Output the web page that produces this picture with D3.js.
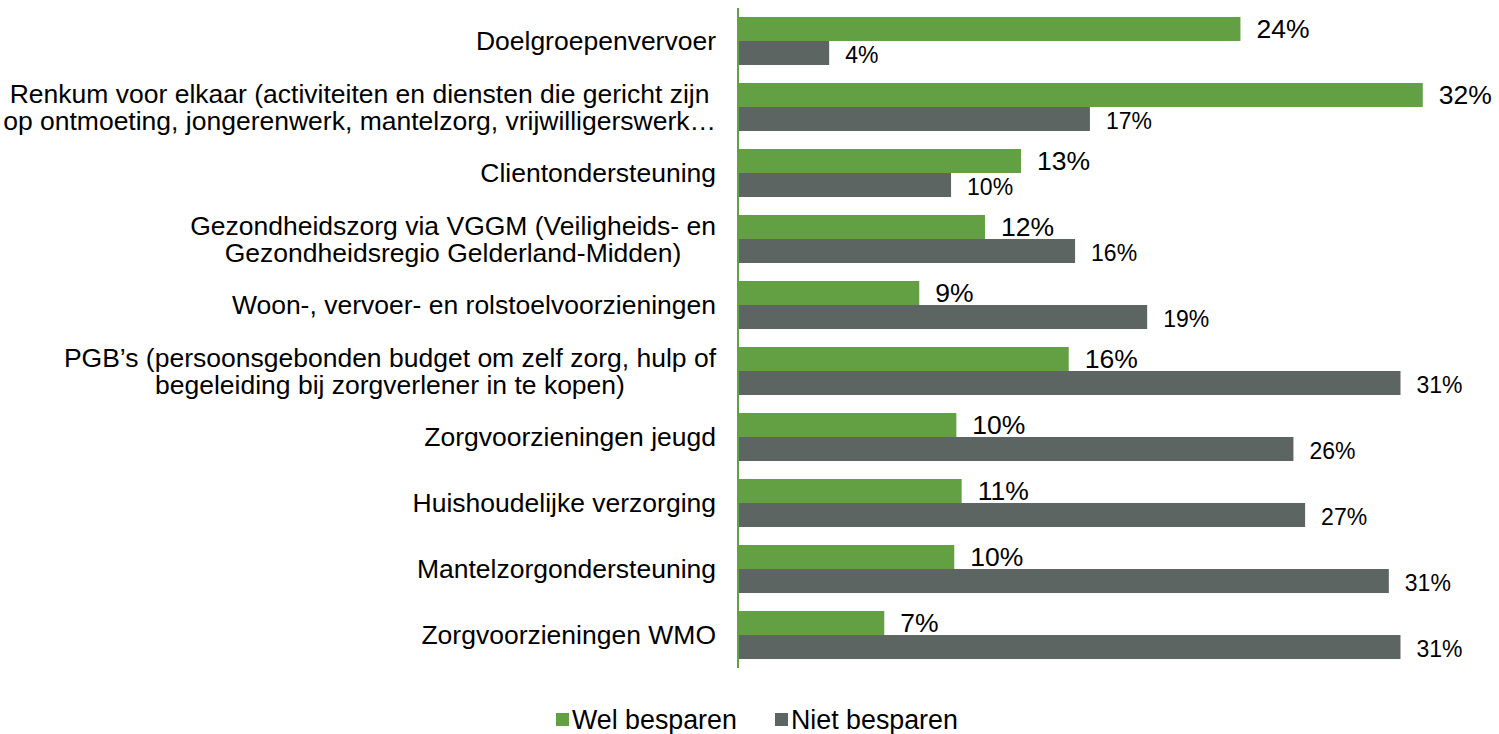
<!DOCTYPE html>
<html>
<head>
<meta charset="utf-8">
<script src="https://cdn.jsdelivr.net/npm/d3@7"></script>
<style>
  html, body { margin: 0; padding: 0; background: #ffffff; }
  svg { display: block; font-family: "Liberation Sans", Arial, sans-serif; }
</style>
</head>
<body>
<svg id="chart" width="1499" height="734"></svg>
<script>
// ---- data ----
const categories = [
  "Doelgroepenvervoer",
  "Renkum voor elkaar (activiteiten en diensten die gericht zijn\nop ontmoeting, jongerenwerk, mantelzorg, vrijwilligerswerk…",
  "Clientondersteuning",
  "Gezondheidszorg via VGGM (Veiligheids- en\nGezondheidsregio Gelderland-Midden)",
  "Woon-, vervoer- en rolstoelvoorzieningen",
  "PGB’s (persoonsgebonden budget om zelf zorg, hulp of\nbegeleiding bij zorgverlener in te kopen)",
  "Zorgvoorzieningen jeugd",
  "Huishoudelijke verzorging",
  "Mantelzorgondersteuning",
  "Zorgvoorzieningen WMO"
];
const welBesparen  = [23.7, 32.3, 13.35, 11.65, 8.55, 15.6, 10.3, 10.55, 10.2, 6.9];
const nietBesparen = [4.3, 16.6, 10.05, 15.9, 19.3, 31.25, 26.2, 26.75, 30.7, 31.25];
const seriesNames  = ["Wel besparen", "Niet besparen"];
const colors       = ["#63A043", "#5D6563"];

// ---- layout ----
const svg = d3.select("#chart");
const axisX = 738, plotTop = 8, plotBottom = 668;
const x = d3.scaleLinear().domain([0, 35]).range([axisX, axisX + 742]);
const y = d3.scaleBand().domain(d3.range(categories.length)).range([plotTop, plotBottom]).paddingInner(0.2727).paddingOuter(0.136);
const sub = d3.scaleBand().domain([0, 1]).range([0, y.bandwidth()]);
const fmt = v => d3.format(".0f")(v) + "%";

const series = [welBesparen, nietBesparen];

series.forEach((vals, s) => {
  const g = svg.append("g");
  g.selectAll("rect").data(vals).join("rect")
    .attr("x", x(0))
    .attr("y", (d, i) => y(i) + sub(s))
    .attr("width", d => x(d) - x(0))
    .attr("height", sub.bandwidth())
    .attr("fill", colors[s]);
  g.selectAll("text").data(vals).join("text")
    .attr("x", d => x(d) + 16)
    .attr("y", (d, i) => y(i) + sub(s) + sub.bandwidth() / 2 + (s === 0 ? 0 : 2))
    .attr("dy", "0.35em")
    .attr("font-size", s === 0 ? 26.5 : 23)
    .attr("fill", "#000")
    .text(fmt);
});

// axis line
svg.append("line")
  .attr("x1", axisX).attr("x2", axisX)
  .attr("y1", plotTop).attr("y2", plotBottom)
  .attr("stroke", colors[0]).attr("stroke-width", 2);

// category labels
const labelRight = 716;
const fs = 26.5;
categories.forEach((c, i) => {
  const lines = c.split("\n");
  const cy = y(i) + y.bandwidth() / 2;
  if (lines.length === 1) {
    svg.append("text")
      .attr("x", labelRight).attr("y", cy).attr("dy", "0.35em")
      .attr("text-anchor", "end").attr("font-size", fs).attr("fill", "#000")
      .text(c);
  } else {
    const g = svg.append("g");
    const ts = lines.map((l, k) => g.append("text")
      .attr("y", cy + (k - (lines.length - 1) / 2) * 27.5).attr("dy", "0.35em")
      .attr("text-anchor", "middle").attr("font-size", fs).attr("fill", "#000")
      .text(l));
    const w = d3.max(ts, t => t.node().getComputedTextLength());
    ts.forEach(t => t.attr("x", labelRight - w / 2));
  }
});

// legend
const legend = svg.append("g");
const legX = [556, 775];
seriesNames.forEach((n, s) => {
  legend.append("rect").attr("x", legX[s]).attr("y", 713).attr("width", 13).attr("height", 13).attr("fill", colors[s]);
  legend.append("text").attr("x", legX[s] + 16).attr("y", 720).attr("dy", "0.35em")
    .attr("font-size", 26.8).attr("fill", "#000").text(n);
});
</script>
</body>
</html>
